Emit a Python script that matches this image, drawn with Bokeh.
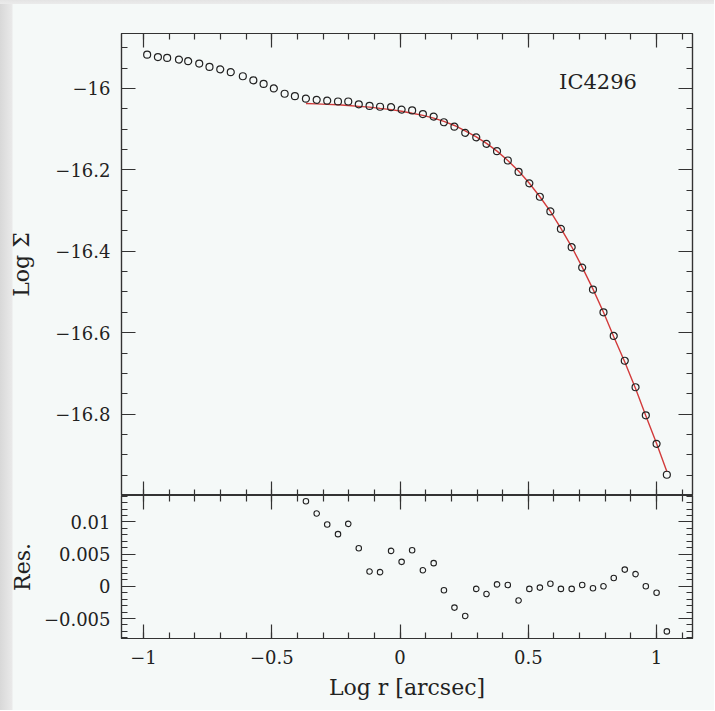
from bokeh.plotting import figure
from bokeh.layouts import column
from bokeh.models import LinearAxis, FixedTicker, Range1d, Label
from bokeh.embed import file_html
from bokeh.resources import INLINE

# ---------------- data ----------------
log_r = [-0.986, -0.944, -0.908, -0.862, -0.826, -0.783, -0.743, -0.701, -0.660, -0.613,
         -0.572, -0.532, -0.492, -0.450, -0.410, -0.367, -0.325, -0.284, -0.242, -0.202,
         -0.161, -0.119, -0.078, -0.035, 0.006, 0.047, 0.089, 0.131, 0.171, 0.212,
         0.254, 0.297, 0.337, 0.378, 0.420, 0.462, 0.504, 0.545, 0.586, 0.627,
         0.669, 0.710, 0.752, 0.793, 0.833, 0.876, 0.918, 0.958, 1.000, 1.040]

log_sigma = [-15.917, -15.923, -15.925, -15.929, -15.933, -15.939, -15.947, -15.953, -15.960, -15.970,
             -15.980, -15.989, -16.000, -16.013, -16.019, -16.025, -16.028, -16.030, -16.032, -16.032,
             -16.039, -16.043, -16.045, -16.046, -16.052, -16.054, -16.063, -16.069, -16.083, -16.094,
             -16.109, -16.120, -16.136, -16.154, -16.177, -16.205, -16.233, -16.266, -16.302, -16.345,
             -16.390, -16.440, -16.494, -16.550, -16.608, -16.669, -16.734, -16.803, -16.873, -16.949]

# fitted region (radii of the fit / residuals)
fit_r = [-0.367, -0.325, -0.284, -0.242, -0.202, -0.161, -0.119, -0.078, -0.035, 0.006,
         0.047, 0.089, 0.131, 0.171, 0.212, 0.254, 0.297, 0.337, 0.378, 0.420,
         0.462, 0.504, 0.545, 0.586, 0.627, 0.669, 0.710, 0.752, 0.793, 0.833,
         0.876, 0.918, 0.958, 1.000, 1.040]

fit_model = [-16.037, -16.038, -16.039, -16.040, -16.042, -16.044, -16.046, -16.049, -16.052, -16.056,
             -16.061, -16.066, -16.073, -16.081, -16.091, -16.104, -16.119, -16.135, -16.154, -16.177,
             -16.203, -16.233, -16.266, -16.302, -16.344, -16.389, -16.439, -16.493, -16.550, -16.610,
             -16.672, -16.737, -16.804, -16.872, -16.941]

residuals = [0.0132, 0.0113, 0.0096, 0.0081, 0.0097, 0.0059, 0.0023, 0.0022, 0.0055, 0.0038,
             0.0056, 0.0025, 0.0036, -0.0006, -0.0033, -0.0046, -0.0004, -0.0012, 0.0003, 0.0002,
             -0.0022, -0.0004, -0.0002, 0.0004, -0.0004, -0.0004, 0.0002, -0.0003, 0.0000, 0.0013,
             0.0026, 0.0019, 0.0000, -0.0010, -0.0070]

x_ticks = [-1, -0.5, 0, 0.5, 1]
x_tick_labels = ["\u22121", "\u22120.5", "0", "0.5", "1"]
x_minor = [-1.1, -1.0, -0.9, -0.8, -0.7, -0.6, -0.5, -0.4, -0.3, -0.2, -0.1, 0.0,
           0.1, 0.2, 0.3, 0.4, 0.5, 0.6, 0.7, 0.8, 0.9, 1.0, 1.1]

y_ticks = [-16.8, -16.6, -16.4, -16.2, -16.0]
y_tick_labels = ["\u221216.8", "\u221216.6", "\u221216.4", "\u221216.2", "\u221216"]
y_minor = [-17.0, -16.95, -16.9, -16.85, -16.8, -16.75, -16.7, -16.65, -16.6, -16.55, -16.5,
           -16.45, -16.4, -16.35, -16.3, -16.25, -16.2, -16.15, -16.1, -16.05, -16.0, -15.95, -15.9]

res_ticks = [-0.005, 0.0, 0.005, 0.01]
res_tick_labels = ["\u22120.005", "0", "0.005", "0.01"]
res_minor = [-0.008, -0.007, -0.006, -0.005, -0.004, -0.003, -0.002, -0.001, 0.0, 0.001, 0.002,
             0.003, 0.004, 0.005, 0.006, 0.007, 0.008, 0.009, 0.010, 0.011, 0.012, 0.013, 0.014]

galaxy = "IC4296"

# ---------------- styling ----------------
BG = "#f5f9f8"
INK = "#333333"
FONT = "DejaVu Serif"
X_RANGE = (-1.086, 1.14)


def make_axis(ticks, minor, labels=None, axis_label=None, label_standoff=10):
    ax = LinearAxis(ticker=FixedTicker(ticks=ticks, minor_ticks=minor))
    ax.major_tick_in = 14
    ax.major_tick_out = 0
    ax.minor_tick_in = 6
    ax.minor_tick_out = 0
    ax.major_tick_line_color = INK
    ax.minor_tick_line_color = INK
    ax.major_tick_line_width = 1.2
    ax.minor_tick_line_width = 1.2
    ax.axis_line_color = INK
    ax.axis_line_width = 1.2
    if labels is not None:
        ax.major_label_overrides = {t: l for t, l in zip(ticks, labels)}
        ax.major_label_text_font = FONT
        ax.major_label_text_font_size = "18px"
        ax.major_label_text_color = "#222222"
        ax.major_label_standoff = 11
    else:
        ax.major_label_text_color = None
        ax.major_label_standoff = 0
    if axis_label is not None:
        ax.axis_label = axis_label
        ax.axis_label_text_font = FONT
        ax.axis_label_text_font_size = "22px"
        ax.axis_label_text_font_style = "normal"
        ax.axis_label_text_color = "#222222"
        ax.axis_label_standoff = label_standoff
    return ax


def base_fig(frame_h, y_range, mb_top, mb_bottom):
    f = figure(frame_width=571, frame_height=frame_h,
               x_range=Range1d(*X_RANGE), y_range=Range1d(*y_range),
               x_axis_type=None, y_axis_type=None,
               output_backend="svg", toolbar_location=None,
               min_border_left=121, min_border_right=22,
               min_border_top=mb_top, min_border_bottom=mb_bottom)
    f.background_fill_color = BG
    f.border_fill_color = None
    f.outline_line_color = INK
    f.outline_line_width = 1.2
    f.grid.visible = False
    return f


# ---------------- top panel: surface density profile ----------------
p1 = base_fig(462, (-17.0, -15.865), 33, 0)
p1.add_layout(make_axis(y_ticks, y_minor, y_tick_labels, "Log \u03a3", 18), "left")
p1.add_layout(make_axis(y_ticks, y_minor), "right")
p1.add_layout(make_axis(x_ticks, x_minor), "above")
p1.add_layout(make_axis(x_ticks, x_minor), "below")

p1.line(fit_r, fit_model, line_color="#d23b3b", line_width=1.4)
p1.scatter(log_r, log_sigma, marker="circle", size=7, fill_color=None,
           line_color="#222222", line_width=1.2)

p1.add_layout(Label(x=0.62, y=-15.985, text=galaxy, text_font=FONT,
                    text_font_size="21px", text_color="#222222",
                    text_baseline="middle", text_align="left"))

# ---------------- bottom panel: residuals ----------------
p2 = base_fig(143, (-0.0081, 0.0141), 0, 72)
p2.add_layout(make_axis(res_ticks, res_minor, res_tick_labels, "Res.", 6), "left")
p2.add_layout(make_axis(res_ticks, res_minor), "right")
p2.add_layout(make_axis(x_ticks, x_minor), "above")
p2.add_layout(make_axis(x_ticks, x_minor, x_tick_labels, "Log r [arcsec]", 8), "below")

p2.scatter(fit_r, residuals, marker="circle", size=5.5, fill_color=None,
           line_color="#222222", line_width=1.1)

layout = column(p1, p2, spacing=0)
layout.styles = {
    "background": ("linear-gradient(to bottom, #e4e4e4 0px, #ebebeb 4px, rgba(0,0,0,0) 4px), "
                   "linear-gradient(to right, #d8d8d8 0px, #e9e9e9 12px, " + BG + " 13px)"),
}

open("out.html", "w").write(file_html(layout, INLINE))
